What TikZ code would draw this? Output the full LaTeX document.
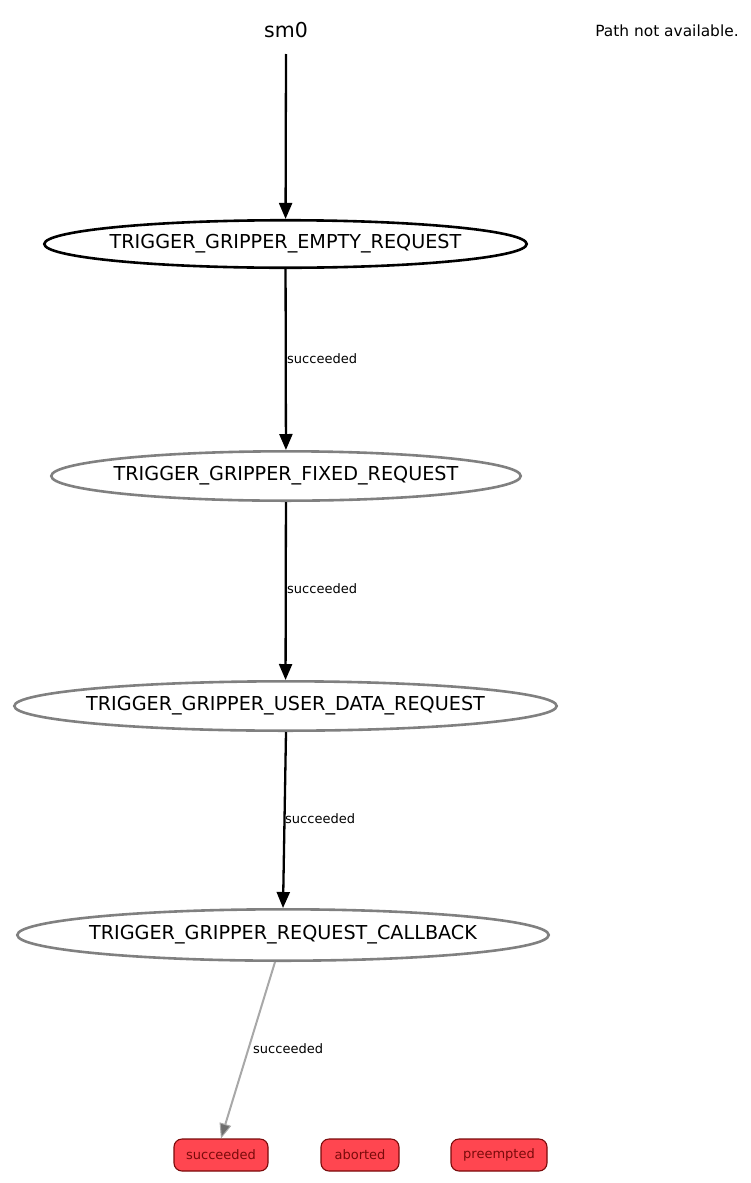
\documentclass[tikz,border=0pt]{standalone}
\usepackage{fontspec}
\setmainfont{DejaVu Sans}
\usetikzlibrary{arrows.meta,shapes.geometric}
\definecolor{stategray}{HTML}{808080}
\definecolor{outfill}{HTML}{FF4650}
\definecolor{outline}{HTML}{7A0A0A}
\definecolor{outtext}{HTML}{7A0A0A}
\definecolor{lightedge}{HTML}{A8A8A8}
\definecolor{tipgray}{HTML}{6E6E6E}
\newcommand{\ctext}[1]{\makebox[0pt]{#1}}
\tikzset{
  statenode/.style={ellipse, draw=stategray, line width=2.6pt, inner sep=0pt, font=\fontsize{19.2}{22}\selectfont},
  activenode/.style={statenode, draw=black},
  outcome/.style={draw=outline, fill=outfill, rounded corners=8pt, line width=1.1pt, text=outtext, inner sep=0pt, minimum height=32pt, font=\fontsize{13}{15}\selectfont},
  edge/.style={draw=black, line width=2.3pt, -{Triangle[length=16pt,width=13pt]}},
  faintedge/.style={draw=lightedge, line width=2pt, -{Triangle[length=15pt,width=12pt,fill=tipgray,line width=1pt]}},
  elabel/.style={anchor=west, inner sep=0pt, font=\fontsize{13}{15}\selectfont}
}
\begin{document}
\begin{tikzpicture}[x=1pt,y=-1pt]
\useasboundingbox (0,0) rectangle (751,1183);
\node[font=\fontsize{20.5}{24}\selectfont, inner sep=0pt] (sm0) at (286,30) {sm0};
\node[font=\fontsize{15.4}{18}\selectfont, inner sep=0pt] (path) at (667,31) {Path not available.};
\coordinate (start) at (286,54);
\node[activenode, minimum width=482.4pt, minimum height=47.5pt] (empty) at (285.5,244) {\ctext{TRIGGER\_GRIPPER\_EMPTY\_REQUEST}};
\node[statenode, minimum width=469.4pt, minimum height=49.4pt] (fixed) at (286,476) {\ctext{TRIGGER\_GRIPPER\_FIXED\_REQUEST}};
\node[statenode, minimum width=542.4pt, minimum height=49.4pt] (user) at (285.5,706) {\ctext{TRIGGER\_GRIPPER\_USER\_DATA\_REQUEST}};
\node[statenode, minimum width=531.4pt, minimum height=51.4pt] (callback) at (283,935) {\ctext{TRIGGER\_GRIPPER\_REQUEST\_CALLBACK}};
\node[outcome, minimum width=94pt] (succ) at (221,1155) {succeeded};
\node[outcome, minimum width=78pt] (abort) at (360,1155) {aborted};
\node[outcome, minimum width=96pt] (preempt) at (499,1155) {preempted};
\coordinate (cbout) at (275,962);
\draw[edge] (start) -- (empty);
\draw[edge] (empty) -- (fixed);
\draw[edge] (fixed) -- (user);
\draw[edge] (user.south) ++(0.5,0) coordinate (uout) (uout) -- (callback.north);
\draw[faintedge] (cbout) -- (succ.north);
\node[elabel] (l1) at (287,359) {succeeded};
\node[elabel] (l2) at (287,589) {succeeded};
\node[elabel] (l3) at (285,819) {succeeded};
\node[elabel] (l4) at (253,1049) {succeeded};
\end{tikzpicture}
\end{document}
